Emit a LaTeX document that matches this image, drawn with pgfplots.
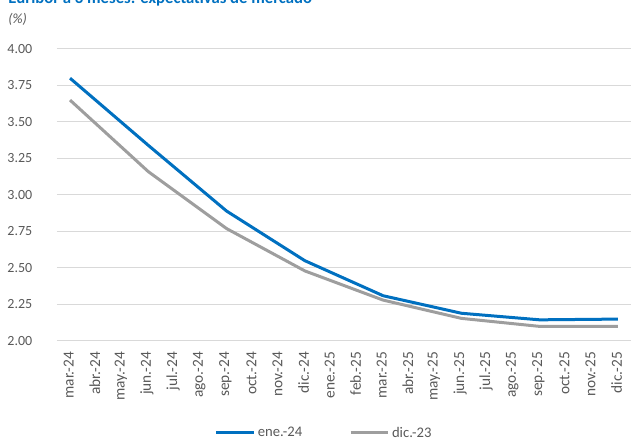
\documentclass[border=0pt]{standalone}
\usepackage{pgfplots}
\pgfplotsset{compat=1.18}
\usepackage{fontspec}
\setmainfont{Carlito}
\definecolor{cblue}{HTML}{0070C0}
\definecolor{cgray}{HTML}{9E9E9E}
\definecolor{ctext}{HTML}{595959}
\definecolor{cgrid}{HTML}{D9D9D9}
\begin{document}
\begin{tikzpicture}
\begin{axis}[
  at={(0pt,0pt)}, anchor=south west,
  scale only axis, width=430.5pt, height=219pt,
  xmin=-0.5, xmax=21.5, ymin=2, ymax=4,
  axis line style={draw=none},
  major tick length=0pt,
  ytick={2,2.25,...,4.01},
  ymajorgrids, grid style={cgrid, line width=0.75pt},
  xtick={0,...,21},
  xticklabels={mar.-24,abr.-24,may.-24,jun.-24,jul.-24,ago.-24,sep.-24,oct.-24,nov.-24,dic.-24,ene.-25,feb.-25,mar.-25,abr.-25,may.-25,jun.-25,jul.-25,ago.-25,sep.-25,oct.-25,nov.-25,dic.-25},
  xticklabel style={rotate=90, anchor=east, inner sep=0pt, font=\fontsize{11.5pt}{13pt}\selectfont, text=ctext, xshift=-8pt, yshift=1pt},
  yticklabel style={font=\fontsize{10.5pt}{12pt}\selectfont, text=ctext, xshift=-15pt},
  /pgf/number format/.cd, fixed, fixed zerofill, precision=2, assume math mode=true,
  /pgfplots/.cd,
  legend columns=2,
  legend style={at={(axis description cs:0.466,-0.315)}, anchor=center, draw=none, fill=none,
    font=\fontsize{11pt}{13pt}\selectfont, text=ctext,
    /tikz/every even column/.append style={column sep=33pt}},
  legend cell align=left,
  legend image code/.code={\draw[#1] (0pt,0pt) -- (28pt,0pt);},
]
\addplot[cblue, line width=2.25pt] coordinates {
(0,3.80) (3,3.34) (6,2.89) (9,2.55) (12,2.31) (15,2.19) (18,2.145) (21,2.15)};
\addlegendentry{ene.-24}
\addplot[cgray, line width=2.25pt] coordinates {
(0,3.65) (3,3.16) (6,2.77) (9,2.48) (12,2.28) (15,2.155) (18,2.10) (21,2.10)};
\addlegendentry{dic.-23}
\end{axis}
\begin{scope}
\clip (-42.75pt,-75pt) rectangle (430.5pt,255.75pt);
\node[anchor=base west, inner sep=0pt, text=cblue, font=\fontsize{12.5pt}{14pt}\selectfont\bfseries] at (-36.75pt,252.75pt) {Euribor a 3 meses: expectativas de mercado};
\end{scope}
\node[anchor=base west, inner sep=0pt, text=ctext, font=\fontsize{10.5pt}{12pt}\selectfont\itshape] at (-36.75pt,238pt) {(\%)};
\pgfresetboundingbox
\useasboundingbox (-42.75pt,-75pt) rectangle (430.5pt,255.75pt);
\end{tikzpicture}
\end{document}
